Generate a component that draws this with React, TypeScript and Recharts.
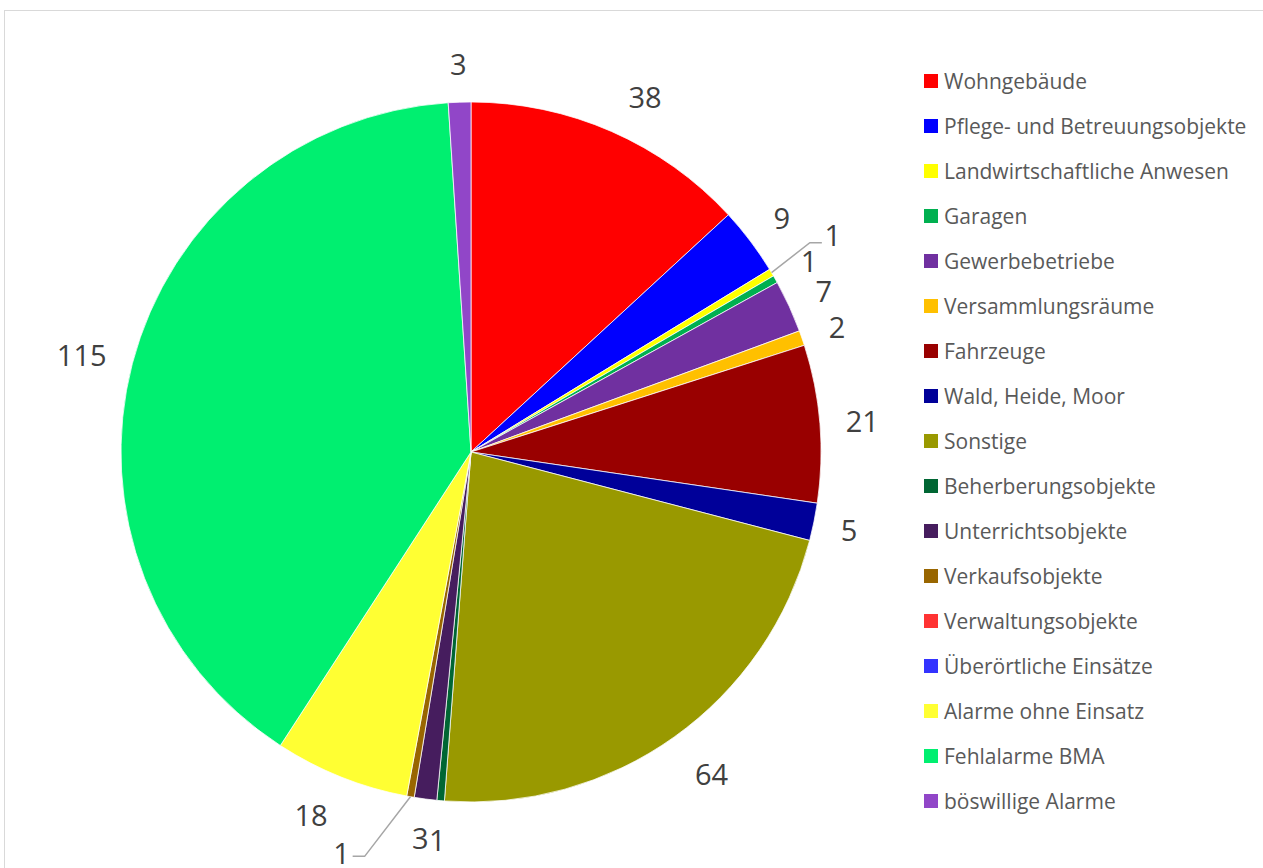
import { PieChart, Pie, Cell, Legend } from 'recharts';

const categories = [
  'Wohngebäude',
  'Pflege- und Betreuungsobjekte',
  'Landwirtschaftliche Anwesen',
  'Garagen',
  'Gewerbebetriebe',
  'Versammlungsräume',
  'Fahrzeuge',
  'Wald, Heide, Moor',
  'Sonstige',
  'Beherberungsobjekte',
  'Unterrichtsobjekte',
  'Verkaufsobjekte',
  'Verwaltungsobjekte',
  'Überörtliche Einsätze',
  'Alarme ohne Einsatz',
  'Fehlalarme BMA',
  'böswillige Alarme',
];

const counts = [38, 9, 1, 1, 7, 2, 21, 5, 64, 1, 3, 1, 0, 0, 18, 115, 3];

const colors = [
  '#FF0000', '#0000FF', '#FFFF00', '#00B050', '#7030A0', '#FFC000', '#990000',
  '#000099', '#999900', '#006633', '#461D5E', '#996600', '#FF3333', '#3333FF',
  '#FFFF33', '#00EF70', '#9146C8',
];

// labels that Excel pulled out with a leader line
const pulledOut: Record<string, [number, number]> = {
  'Landwirtschaftliche Anwesen': [28, -18],
  'Verkaufsobjekte': [-62, 17],
};

// small label shifts without a leader line
const labelShift: Record<string, [number, number]> = {
  'Wohngebäude': [16, 5],
  'Sonstige': [11, 0],
  'Alarme ohne Einsatz': [-14, -3],
  'Fehlalarme BMA': [0, 4],
};

const data = categories.map((name, i) => ({ name, value: counts[i] }));

const RAD = Math.PI / 180;
const textColor = '#404040';
const font = '"Open Sans", sans-serif';
const labelSize = 29;

function renderLabel(props: any) {
  const { cx, cy, midAngle, outerRadius, value, name } = props;
  if (!value) return null;
  const cos = Math.cos(-midAngle * RAD);
  const sin = Math.sin(-midAngle * RAD);
  // keep the label box a fixed gap away from the rim
  const w = String(value).length * 0.572 * labelSize;
  const h = 26;
  const r = outerRadius + 25 + (w / 2) * Math.abs(cos) + (h / 2) * Math.abs(sin);
  const nudge = pulledOut[name];
  const shift = nudge || labelShift[name] || [0, 0];
  const x = cx + r * cos + shift[0];
  const y = cy + r * sin + shift[1];
  const text = (
    <text x={x} y={y} fill={textColor} fontSize={labelSize} fontFamily={font} textAnchor="middle" dominantBaseline="central">
      {value}
    </text>
  );
  if (!nudge) return text;
  const sx = cx + outerRadius * cos;
  const sy = cy + outerRadius * sin;
  const side = x > sx ? -1 : 1;
  const ey = y + (side < 0 ? 8 : 4);
  const hx = x + side * 11;
  const kx = hx + side * 12;
  return (
    <g>
      <polyline points={`${sx},${sy} ${kx},${ey} ${hx},${ey}`} fill="none" stroke="#A6A6A6" strokeWidth={1.5} />
      {text}
    </g>
  );
}

function LegendList() {
  return (
    <div style={{ fontFamily: font }}>
      {categories.map((name, i) => (
        <div key={name} style={{ display: 'flex', alignItems: 'center', height: 45 }}>
          <span style={{ width: 14, height: 14, background: colors[i], marginRight: 6, flexShrink: 0 }} />
          <span style={{ fontSize: 21, color: '#595959', whiteSpace: 'nowrap' }}>{name}</span>
        </div>
      ))}
    </div>
  );
}

export default function App() {
  return (
    <div style={{ position: 'absolute', left: 0, top: 0, width: 1263, height: 868, background: '#fff', overflow: 'hidden' }}>
      <div
        style={{
          position: 'absolute',
          left: 4,
          top: 10,
          width: 1300,
          height: 900,
          borderTop: '1px solid #D9D9D9',
          borderLeft: '1px solid #D9D9D9',
        }}
      />
      <PieChart width={1263} height={868} margin={{ top: 0, right: 0, bottom: 0, left: 0 }} style={{ position: 'absolute', left: 0, top: 0 }}>
        <Pie
          data={data}
          dataKey="value"
          nameKey="name"
          cx={471}
          cy={452}
          outerRadius={350}
          startAngle={90}
          endAngle={-270}
          stroke="#fff"
          strokeWidth={0.75}
          label={renderLabel}
          labelLine={false}
          isAnimationActive={false}
        >
          {data.map((d, i) => (
            <Cell key={d.name} fill={colors[i]} />
          ))}
        </Pie>
        <Legend
          content={<LegendList />}
          layout="vertical"
          verticalAlign="top"
          align="right"
          wrapperStyle={{ left: 924, top: 58, width: 339 }}
        />
      </PieChart>
    </div>
  );
}
